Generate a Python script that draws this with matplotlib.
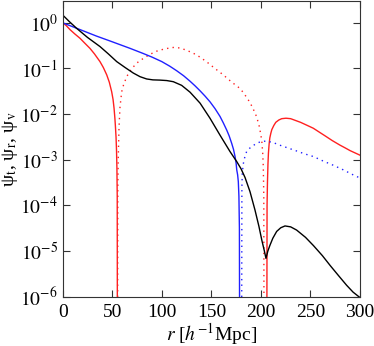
import numpy as np
import matplotlib
matplotlib.use("Agg")
import matplotlib.pyplot as plt
from matplotlib.ticker import NullLocator, MultipleLocator

plt.rcParams['font.family'] = ['Liberation Serif', 'DejaVu Serif']
plt.rcParams['mathtext.fontset'] = 'stix'

# values: r [h^-1 Mpc], log10(psi)
red_r = [0, 3.5, 7.4, 12, 17.5, 22, 27.5, 32, 37.6, 41, 44.4, 47, 49.4, 50.8, 51.8, 52.6,
         53.1, 53.8, 54.3, 54.7, 55.0, 55.2,
         205.9, 206.2, 206.6, 207.1, 207.6, 208.3, 209.0, 210, 211, 213, 215, 218, 221, 225.3,
         230, 235, 240, 246, 252.9, 260, 265, 272, 279.8, 285, 290, 295, 300]
red_log = [0, -0.06, -0.15, -0.24, -0.34, -0.44, -0.56, -0.68, -0.85, -0.98, -1.14, -1.30,
           -1.51, -1.68, -1.87, -2.08, -2.24, -2.5, -2.8, -3.2, -3.8, -8,
           -8, -4.0, -3.5, -3.1, -2.85, -2.65, -2.52, -2.42, -2.34, -2.25, -2.18, -2.13, -2.10,
           -2.09, -2.1, -2.14, -2.18, -2.24, -2.31, -2.41, -2.48, -2.58, -2.68, -2.74, -2.8,
           -2.85, -2.9]

red_dot_r = [55.3, 55.6, 56.0, 56.8, 57.8, 59.5, 61.5, 64.6, 67.5, 71, 76, 81.3, 88, 95, 103,
             111.6, 118, 125, 135, 145, 153, 162, 170, 179, 183, 187.3, 191.5, 195.7, 198.5,
             200.8, 201.8, 202.4, 202.9, 203.2]
red_dot_log = [-8, -3.6, -3.0, -2.3, -1.85, -1.51, -1.35, -1.18, -1.07, -0.97, -0.86, -0.78,
               -0.69, -0.62, -0.57, -0.54, -0.55, -0.6, -0.7, -0.85, -0.99, -1.14, -1.29,
               -1.44, -1.55, -1.69, -1.85, -2.06, -2.28, -2.57, -2.85, -3.15, -3.8, -8]

blue_r = [0, 10, 20, 34, 48, 58, 68, 81, 90, 100, 108, 115, 122, 128.5, 133.5, 138.6, 143.6,
          148.6, 153.7, 158.7, 162, 165.5, 168, 170.5, 172.3, 173.9, 175, 175.6, 176.5, 177.2,
          177.8, 178.3, 178.6]
blue_log = [0, -0.085, -0.17, -0.29, -0.40, -0.48, -0.56, -0.67, -0.75, -0.85, -0.95, -1.05,
            -1.16, -1.28, -1.38, -1.49, -1.605, -1.73, -1.88, -2.05, -2.19, -2.35, -2.48, -2.64,
            -2.77, -2.93, -3.08, -3.22, -3.33, -3.48, -3.8, -4.5, -8]

blue_dot_r = [180.5, 180.8, 181.2, 182, 183, 184.3, 185.6, 188, 190.7, 195, 199, 205, 212, 219,
              227, 235, 244, 253, 263, 273, 283, 293, 300]
blue_dot_log = [-8, -3.6, -3.3, -3.12, -3.0, -2.9, -2.82, -2.76, -2.71, -2.65, -2.61, -2.59,
                -2.62, -2.68, -2.74, -2.8, -2.87, -2.93, -3.03, -3.12, -3.22, -3.33, -3.4]

black_r = [0, 7, 14, 25, 37.6, 46, 54.5, 63, 71.2, 78, 84.7, 91, 98, 105, 111.6, 120, 128.5,
           138.6, 148.6, 158.7, 168.8, 175.6, 180, 184, 189, 194, 198, 201, 203.5, 205.1, 207,
           209, 212, 215.9, 220, 224.3, 230, 236, 245, 253, 262, 270, 278, 286.5, 293, 300]
black_log = [0.17, 0.02, -0.12, -0.32, -0.52, -0.68, -0.85, -0.98, -1.1, -1.18, -1.23, -1.25,
             -1.255, -1.265, -1.29, -1.37, -1.52, -1.76, -2.09, -2.46, -2.82, -3.04, -3.2,
             -3.39, -3.7, -4.1, -4.46, -4.77, -5.0, -5.16, -5.0, -4.88, -4.72, -4.57, -4.49,
             -4.45, -4.47, -4.54, -4.7, -4.88, -5.1, -5.32, -5.53, -5.75, -5.9, -6.02]

y_ticks = [1e-6, 1e-5, 1e-4, 1e-3, 1e-2, 1e-1, 1e0]
y_ticklabels = [r'$10^{-6}$', r'$10^{-5}$', r'$10^{-4}$', r'$10^{-3}$', r'$10^{-2}$',
                r'$10^{-1}$', r'$10^{0}$']

fig = plt.figure(figsize=(3.74, 3.46), dpi=100)
ax = fig.add_axes([0.1677, 0.1425, 0.7949, 0.8545])

ax.plot(red_r, 10.0 ** np.array(red_log), color='#ff2020', lw=1.0)
ax.plot(red_dot_r, 10.0 ** np.array(red_dot_log), color='#ff2020', lw=1.0, ls=(0, (1, 3)))
ax.plot(blue_r, 10.0 ** np.array(blue_log), color='#2020ff', lw=1.0)
ax.plot(blue_dot_r, 10.0 ** np.array(blue_dot_log), color='#2020ff', lw=1.0, ls=(0, (1, 3)))
ax.plot(black_r, 10.0 ** np.array(black_log), color='black', lw=1.0)

ax.set_yscale('log')
ax.set_xlim(0, 300)
ax.set_ylim(1e-6, 3)
ax.xaxis.set_major_locator(MultipleLocator(50))
ax.set_yticks(y_ticks)
ax.set_yticklabels(y_ticklabels)
ax.yaxis.set_minor_locator(NullLocator())
ax.tick_params(direction='in', top=True, right=True, length=5, width=0.8,
               labelsize=14, colors='#333333', labelcolor='black')
ax.tick_params(axis='x', pad=5)
for s in ax.spines.values():
    s.set_color('#333333')
    s.set_linewidth(0.8)

ax.set_xlabel(r'$r$ [$h^{-1}$Mpc]', fontsize=14, labelpad=0)
ax.set_ylabel(r'ψ$_{\rm t}$, ψ$_{\rm r}$, ψ$_{\rm v}$', fontsize=14, labelpad=0)

fig.savefig('out.png', dpi=100)
